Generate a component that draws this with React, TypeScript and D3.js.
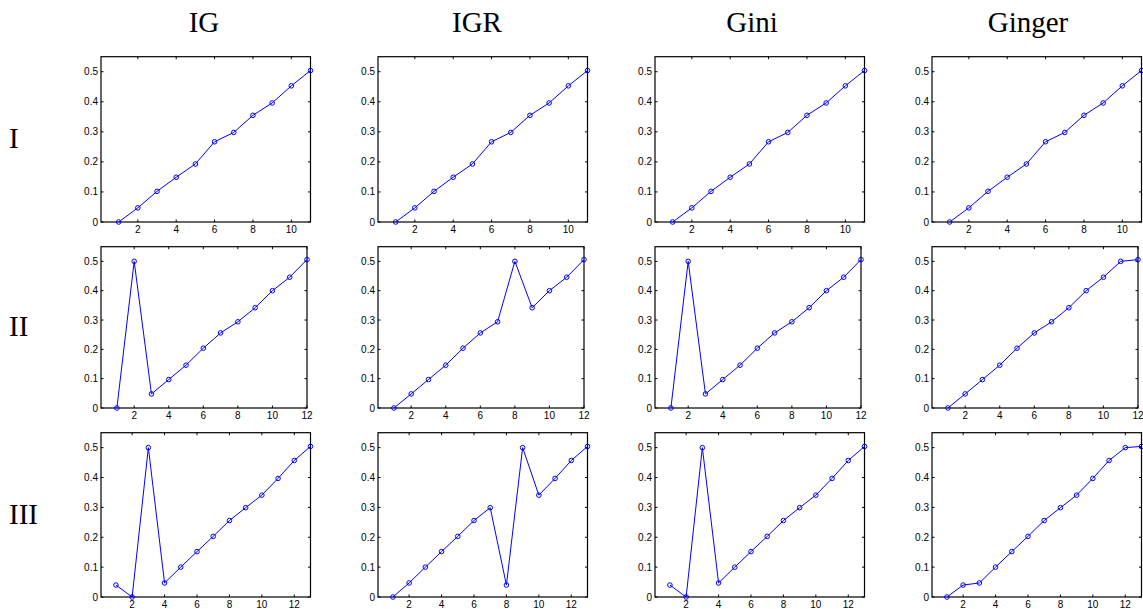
import React, { useEffect, useRef } from 'react'
import * as d3 from 'd3'

const columnTitles = ['IG', 'IGR', 'Gini', 'Ginger']
const rowTitles = ['I', 'II', 'III']

// row I: same curve for every criterion
const rowI = [0, 0.047, 0.102, 0.149, 0.193, 0.267, 0.298, 0.355, 0.396, 0.453, 0.504]

// row II
const rowII_IG = [0, 0.5, 0.048, 0.097, 0.146, 0.204, 0.256, 0.294, 0.342, 0.4, 0.446, 0.506]
const rowII_IGR = [0, 0.048, 0.097, 0.146, 0.204, 0.256, 0.294, 0.5, 0.342, 0.4, 0.446, 0.506]
const rowII_Gini = [0, 0.5, 0.048, 0.097, 0.146, 0.204, 0.256, 0.294, 0.342, 0.4, 0.446, 0.506]
const rowII_Ginger = [0, 0.048, 0.097, 0.146, 0.204, 0.256, 0.294, 0.342, 0.4, 0.446, 0.5, 0.506]

// row III
const rowIII_IG = [0.04, 0, 0.5, 0.047, 0.1, 0.152, 0.203, 0.256, 0.299, 0.341, 0.397, 0.457, 0.504]
const rowIII_IGR = [0, 0.047, 0.1, 0.152, 0.203, 0.256, 0.299, 0.04, 0.5, 0.341, 0.397, 0.457, 0.504]
const rowIII_Gini = [0.04, 0, 0.5, 0.047, 0.1, 0.152, 0.203, 0.256, 0.299, 0.341, 0.397, 0.457, 0.504]
const rowIII_Ginger = [0, 0.04, 0.047, 0.1, 0.152, 0.203, 0.256, 0.299, 0.341, 0.397, 0.457, 0.5, 0.504]

const series = [
  [rowI, rowI, rowI, rowI],
  [rowII_IG, rowII_IGR, rowII_Gini, rowII_Ginger],
  [rowIII_IG, rowIII_IGR, rowIII_Gini, rowIII_Ginger],
]

const yTicks = [0, 0.1, 0.2, 0.3, 0.4, 0.5]

function App() {
  const ref = useRef<SVGSVGElement>(null)

  useEffect(() => {
    const svg = d3.select(ref.current)
    svg.selectAll('*').remove()

    const colLeft = [101, 378, 655, 932]
    const titleX = [204, 477, 752, 1028]
    const rowTop = [56.7, 246.7, 432.7]
    const rowBottom = [222, 408, 597]
    const rowWidth = [209.5, 206, 209.5]

    // column titles
    svg.selectAll('text.coltitle')
      .data(columnTitles)
      .enter()
      .append('text')
      .attr('class', 'coltitle')
      .attr('x', (d, i) => titleX[i])
      .attr('y', 32)
      .attr('text-anchor', 'middle')
      .attr('font-family', 'Liberation Serif, serif')
      .attr('font-size', 29)
      .text(d => d)

    // row titles
    svg.selectAll('text.rowtitle')
      .data(rowTitles)
      .enter()
      .append('text')
      .attr('class', 'rowtitle')
      .attr('x', 9)
      .attr('y', (d, i) => (rowTop[i] + rowBottom[i]) / 2 + 9)
      .attr('font-family', 'Liberation Serif, serif')
      .attr('font-size', 29)
      .text(d => d)

    series.forEach((row, r) => {
      row.forEach((values, c) => {
        const n = values.length
        const x0 = colLeft[c]
        const x1 = colLeft[c] + rowWidth[r]
        const x = d3.scaleLinear().domain([0.08, n]).range([x0, x1])
        const y = d3.scaleLinear().domain([0, 0.55]).range([rowBottom[r], rowTop[r]])
        const g = svg.append('g')
        const xTicks = d3.range(2, n + 1, 2)

        // ticks (inside, mirrored on top and right)
        const tl = 2.5
        xTicks.forEach(t => {
          g.append('line').attr('x1', x(t)).attr('x2', x(t))
            .attr('y1', y(0)).attr('y2', y(0) - tl).attr('stroke', '#000')
          g.append('line').attr('x1', x(t)).attr('x2', x(t))
            .attr('y1', y(0.55)).attr('y2', y(0.55) + tl).attr('stroke', '#000')
          g.append('text').attr('x', x(t)).attr('y', y(0) + 11)
            .attr('text-anchor', 'middle')
            .attr('font-family', 'Liberation Sans, Arial, sans-serif')
            .attr('font-size', 10)
            .text(t)
        })
        yTicks.forEach(t => {
          g.append('line').attr('x1', x0).attr('x2', x0 + tl)
            .attr('y1', y(t)).attr('y2', y(t)).attr('stroke', '#000')
          g.append('line').attr('x1', x1).attr('x2', x1 - tl)
            .attr('y1', y(t)).attr('y2', y(t)).attr('stroke', '#000')
          g.append('text').attr('x', x0 - 3).attr('y', y(t) + 3.5)
            .attr('text-anchor', 'end')
            .attr('font-family', 'Liberation Sans, Arial, sans-serif')
            .attr('font-size', 10)
            .text(t === 0 ? '0' : d3.format('.1f')(t))
        })

        // box
        g.append('rect')
          .attr('x', x0).attr('y', rowTop[r])
          .attr('width', x1 - x0).attr('height', rowBottom[r] - rowTop[r])
          .attr('fill', 'none').attr('stroke', '#000').attr('stroke-width', 1.2)

        const line = d3.line<number>()
          .x((d, i) => x(i + 1))
          .y(d => y(d))

        g.append('path')
          .datum(values)
          .attr('d', line)
          .attr('fill', 'none')
          .attr('stroke', '#0000ff')
          .attr('stroke-width', 1)

        g.selectAll('circle')
          .data(values)
          .enter()
          .append('circle')
          .attr('cx', (d, i) => x(i + 1))
          .attr('cy', d => y(d))
          .attr('r', 2.3)
          .attr('fill', 'none')
          .attr('stroke', '#0000ff')
          .attr('stroke-width', 1)
      })
    })
  }, [])

  return (
    <svg ref={ref} width={1143} height={609}
      style={{ position: 'absolute', left: 0, top: 0, background: '#fff' }} />
  )
}

export default App
